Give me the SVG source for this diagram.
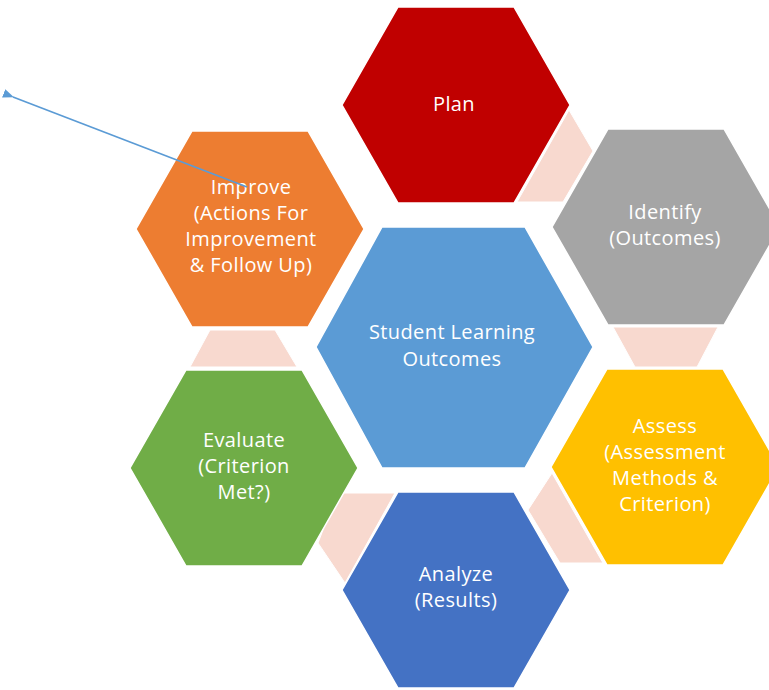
<svg xmlns="http://www.w3.org/2000/svg" width="769" height="690" viewBox="0 0 769 690">
  <style>
    .hex { stroke: #ffffff; stroke-width: 1.5; stroke-linejoin: miter; }
    .link { fill: #F8D9CF; stroke: #ffffff; stroke-width: 1; }
    .lbl { font-family: "Open Sans", "Noto Sans", "Liberation Sans", sans-serif; font-size: 20px; fill: #ffffff; text-anchor: middle; letter-spacing: 0.4px; }
    .arrow { fill: none; stroke: #5B9BD5; stroke-width: 1.7; }
  </style>
  <defs>
    <marker id="ah" markerWidth="11" markerHeight="9" refX="1" refY="4.5" orient="auto" markerUnits="userSpaceOnUse">
      <path d="M11,0 L0,4.5 L11,9 Z" fill="#5B9BD5"/>
    </marker>
  </defs>
  <rect width="769" height="690" fill="#ffffff"/>

  <g id="links">
    <polygon class="link" points="569,110 593,151 563,202 517,202"/>
    <polygon class="link" points="613,327 718,327 697,367 635,367"/>
    <polygon class="link" points="552,473 528,510 560,563 603,563"/>
    <polygon class="link" points="337,493 395,493 345,583 318,543"/>
    <polygon class="link" points="210,330 275,330 297,367 190,367"/>
  </g>

  <g id="plan">
    <polygon class="hex" fill="#C00000" points="398,7 514,7 570,105 514,203 398,203 342,105"/>
    <text class="lbl" x="454" y="111">Plan</text>
  </g>

  <g id="identify">
    <polygon class="hex" fill="#A5A5A5" points="608,129 724,129 780,227 724,325 608,325 552,227"/>
    <text class="lbl" x="665" y="219">Identify</text>
    <text class="lbl" x="665" y="245">(Outcomes)</text>
  </g>

  <g id="assess">
    <polygon class="hex" fill="#FFC000" points="607,369 723,369 779,467 723,565 607,565 551,467"/>
    <text class="lbl" x="665" y="433">Assess</text>
    <text class="lbl" x="665" y="459">(Assessment</text>
    <text class="lbl" x="665" y="485">Methods &amp;</text>
    <text class="lbl" x="665" y="511">Criterion)</text>
  </g>

  <g id="analyze">
    <polygon class="hex" fill="#4472C4" points="398,492 514,492 570,590 514,688 398,688 342,590"/>
    <text class="lbl" x="456" y="581">Analyze</text>
    <text class="lbl" x="456" y="607">(Results)</text>
  </g>

  <g id="evaluate">
    <polygon class="hex" fill="#70AD47" points="186,370 302,370 358,468 302,566 186,566 130,468"/>
    <text class="lbl" x="244" y="447">Evaluate</text>
    <text class="lbl" x="244" y="473">(Criterion</text>
    <text class="lbl" x="244" y="499">Met?)</text>
  </g>

  <g id="improve">
    <polygon class="hex" fill="#ED7D31" points="192,131 308,131 364,229 308,327 192,327 136,229"/>
    <text class="lbl" x="251" y="194">Improve</text>
    <text class="lbl" x="251" y="220">(Actions For</text>
    <text class="lbl" x="251" y="246">Improvement</text>
    <text class="lbl" x="251" y="272">&amp; Follow Up)</text>
  </g>

  <g id="center">
    <polygon class="hex" fill="#5B9BD5" points="382,227 525,227 593,347 525,468 382,468 316,347"/>
    <text class="lbl" x="452" y="339">Student Learning</text>
    <text class="lbl" x="452" y="366">Outcomes</text>
  </g>

  <g id="connectors">
    <line class="arrow" x1="247" y1="187" x2="13" y2="97" marker-end="url(#ah)"/>
  </g>
</svg>
